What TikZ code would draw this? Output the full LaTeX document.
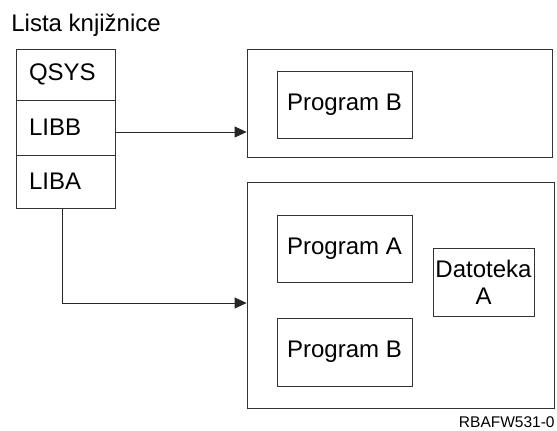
\documentclass[tikz,border=0pt]{standalone}
\usepackage{fontspec}
\setmainfont{Liberation Sans}
\usetikzlibrary{arrows.meta}
\begin{document}
\begin{tikzpicture}[x=1pt,y=-1pt,inner sep=0pt,line width=0.8pt,
		font=\fontsize{24}{27}\selectfont,
		box/.style={rectangle,draw=black!80,line width=0.8pt},
		libbox/.style={box,minimum width=99pt,text width=73pt,align=left},
		prog/.style={box,minimum width=135pt,minimum height=67pt},
		>={Triangle[length=12pt,width=11pt]}]
		\useasboundingbox (0,0) rectangle (557,431);
		\node [anchor=base west] (title) at (11,31) {Lista knjižnice};
%		list of libraries
		\node [libbox,minimum height=51pt] (qsys) at (65.5,74.5) {QSYS};
		\node [libbox,minimum height=55pt] (libb) at (65.5,127.5) {LIBB};
		\node [libbox,minimum height=53pt] (liba) at (65.5,181.5) {LIBA};
%		libraries
		\node [box,minimum width=305pt,minimum height=108pt] (bibb) at (399.5,103) {};
		\node [box,minimum width=307pt,minimum height=226pt] (biba) at (400.5,295) {};
		\node [prog] (progb) at (344.5,104.5) {Program B};
		\node [prog] (proga) at (344.5,248.5) {Program A};
		\node [prog,minimum height=68pt] (progba) at (344.5,352) {Program B};
		\node [box,minimum width=101pt,minimum height=68pt,align=center] (dat) at (483.5,282) {Datoteka\\A};
		\node [anchor=base east,font=\fontsize{15.5}{18}\selectfont] (ref) at (555,427) {RBAFW531-0};
		\draw [->,color=black!85] ([yshift=-4.5pt]libb.east) -- ([yshift=-4.5pt]libb.east -| bibb.west);
		\draw [->,color=black!85] ([xshift=-3.5pt]liba.south) |- ([yshift=-8pt]biba.west);
	\end{tikzpicture}
\end{document}
